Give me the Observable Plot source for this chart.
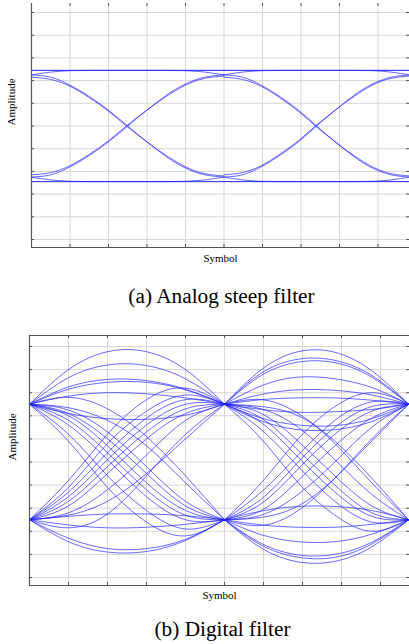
<!DOCTYPE html>
<html><head><meta charset="utf-8">
<script src="https://cdn.jsdelivr.net/npm/d3@7"></script>
<script src="https://cdn.jsdelivr.net/npm/@observablehq/plot@0.6"></script>
<style>
html,body{margin:0;padding:0;overflow:hidden;background:#fff;width:409px;height:644px}
#root{position:relative;width:409px;height:644px}
</style></head><body><div id="root"></div>
<script>
// ---------- shared labels / ticks ----------
const xTicks = [0.2, 0.4, 0.6, 0.8, 1.0, 1.2, 1.4, 1.6, 1.8];
const yTicks = [-1, -0.8, -0.6, -0.4, -0.2, 0, 0.2, 0.4, 0.6, 0.8, 1];
const captions = ["(a) Analog steep filter", "(b) Digital filter"];
const xLabel = "Symbol";
const yLabel = "Amplitude";

// ---------- panel (a): analog steep filter ----------
const aFlatX = [0, 1.964];
const aFlatHigh = [0.49, 0.49];
const aFlatLow = [-0.49, -0.49];
const aX1 = [0, 0.1, 0.2, 0.3, 0.4, 0.5, 0.6, 0.7, 0.8, 0.9, 1.0];
const aX2 = [1.0, 1.096, 1.193, 1.289, 1.386, 1.482, 1.578, 1.675, 1.771, 1.868, 1.964];
const aFall = [
  [0.45, 0.43, 0.36, 0.26, 0.14, 0.00, -0.14, -0.26, -0.36, -0.42, -0.44],
  [0.43, 0.41, 0.35, 0.25, 0.13, -0.01, -0.14, -0.27, -0.37, -0.43, -0.45]
];
const aRise = [
  [-0.45, -0.43, -0.36, -0.26, -0.14, 0.00, 0.14, 0.26, 0.36, 0.42, 0.44],
  [-0.43, -0.41, -0.35, -0.25, -0.13, 0.01, 0.14, 0.27, 0.37, 0.43, 0.45]
];
const aSettleHigh = [0.45, 0.475, 0.487, 0.49, 0.49, 0.49, 0.49, 0.49, 0.49, 0.49, 0.49];
const aLeaveHigh  = [0.49, 0.49, 0.49, 0.49, 0.49, 0.49, 0.49, 0.49, 0.487, 0.475, 0.45];
const aSettleLow  = [-0.45, -0.475, -0.487, -0.49, -0.49, -0.49, -0.49, -0.49, -0.49, -0.49, -0.49];
const aLeaveLow   = [-0.49, -0.49, -0.49, -0.49, -0.49, -0.49, -0.49, -0.49, -0.487, -0.475, -0.45];

// ---------- panel (b): digital filter ----------
const bX1 = [0, 0.2, 0.4, 0.6, 0.8, 1.0];
const bX2 = [1.0, 1.189, 1.378, 1.566, 1.755, 1.944];
const bUpper1 = [
  [0.5, 0.80, 0.955, 0.955, 0.80, 0.5],
  [0.5, 0.73, 0.84, 0.835, 0.72, 0.5],
  [0.5, 0.65, 0.715, 0.705, 0.63, 0.5],
  [0.5, 0.63, 0.69, 0.69, 0.625, 0.5],
  [0.5, 0.57, 0.60, 0.59, 0.555, 0.5],
  [0.5, 0.42, 0.375, 0.37, 0.405, 0.5]
];
const bLower1 = [
  [-0.5, -0.69, -0.78, -0.775, -0.68, -0.5],
  [-0.5, -0.66, -0.75, -0.75, -0.67, -0.5],
  [-0.5, -0.545, -0.57, -0.565, -0.54, -0.5],
  [-0.5, -0.47, -0.45, -0.45, -0.465, -0.5]
];
const bFall1 = [
  [0.5, 0.40, 0.14, -0.18, -0.42, -0.5],
  [0.5, 0.32, 0.02, -0.30, -0.50, -0.5],
  [0.5, 0.45, 0.26, -0.04, -0.34, -0.5],
  [0.5, 0.24, -0.12, -0.42, -0.58, -0.5],
  [0.5, 0.47, 0.36, 0.14, -0.18, -0.5],
  [0.5, 0.18, -0.22, -0.52, -0.64, -0.5],
  [0.5, 0.56, 0.46, 0.22, -0.12, -0.5],
  [0.5, 0.36, 0.08, -0.24, -0.46, -0.5],
  [0.5, 0.42, 0.20, -0.10, -0.38, -0.5]
];
const bRise1 = [
  [-0.5, -0.38, -0.10, 0.20, 0.42, 0.5],
  [-0.5, -0.30, 0.02, 0.32, 0.50, 0.5],
  [-0.5, -0.44, -0.24, 0.06, 0.36, 0.5],
  [-0.5, -0.22, 0.16, 0.44, 0.58, 0.5],
  [-0.5, -0.57, -0.45, -0.12, 0.24, 0.5],
  [-0.5, -0.16, 0.24, 0.54, 0.64, 0.5],
  [-0.5, -0.46, -0.34, -0.10, 0.20, 0.5],
  [-0.5, -0.34, -0.04, 0.26, 0.46, 0.5],
  [-0.5, -0.26, 0.08, 0.38, 0.54, 0.5]
];
const bUpper2 = [
  [0.5, 0.80, 0.955, 0.95, 0.79, 0.5],
  [0.5, 0.77, 0.89, 0.88, 0.75, 0.5],
  [0.5, 0.75, 0.865, 0.86, 0.735, 0.5],
  [0.5, 0.66, 0.735, 0.72, 0.645, 0.5],
  [0.5, 0.585, 0.625, 0.62, 0.58, 0.5],
  [0.5, 0.54, 0.555, 0.555, 0.535, 0.5],
  [0.5, 0.455, 0.43, 0.435, 0.455, 0.5],
  [0.5, 0.38, 0.32, 0.315, 0.375, 0.5],
  [0.5, 0.355, 0.28, 0.28, 0.35, 0.5]
];
const bLower2 = [
  [-0.5, -0.745, -0.865, -0.86, -0.735, -0.5],
  [-0.5, -0.72, -0.825, -0.825, -0.71, -0.5],
  [-0.5, -0.705, -0.805, -0.80, -0.695, -0.5],
  [-0.5, -0.63, -0.69, -0.69, -0.625, -0.5],
  [-0.5, -0.545, -0.565, -0.565, -0.54, -0.5],
  [-0.5, -0.425, -0.385, -0.385, -0.42, -0.5]
];
const bFall2 = [
  [0.5, 0.38, 0.10, -0.20, -0.44, -0.5],
  [0.5, 0.28, -0.04, -0.34, -0.52, -0.5],
  [0.5, 0.46, 0.30, 0.02, -0.28, -0.5],
  [0.5, 0.20, -0.18, -0.46, -0.60, -0.5],
  [0.5, 0.48, 0.40, 0.18, -0.14, -0.5],
  [0.5, 0.34, 0.04, -0.26, -0.47, -0.5],
  [0.5, 0.54, 0.42, 0.16, -0.18, -0.5],
  [0.5, 0.42, 0.18, -0.12, -0.38, -0.5]
];
const bRise2 = [
  [-0.5, -0.36, -0.06, 0.24, 0.44, 0.5],
  [-0.5, -0.26, 0.06, 0.36, 0.52, 0.5],
  [-0.5, -0.46, -0.28, 0.00, 0.30, 0.5],
  [-0.5, -0.18, 0.20, 0.48, 0.60, 0.5],
  [-0.5, -0.48, -0.38, -0.14, 0.18, 0.5],
  [-0.5, -0.32, 0.00, 0.30, 0.48, 0.5],
  [-0.5, -0.55, -0.42, -0.14, 0.20, 0.5],
  [-0.5, -0.42, -0.16, 0.14, 0.38, 0.5]
];

const FONT = "'Liberation Serif', 'Times New Roman', Tinos, serif";

// ---------- helpers ----------
function traces(xs, list, prefix) {
  return list.flatMap((ys, i) => ys.map((y, j) => ({x: xs[j], y, id: prefix + i})));
}

const aData = [
  ...traces(aFlatX, [aFlatHigh, aFlatLow], "af"),
  ...traces(aX1, [...aFall, ...aRise, aSettleHigh, aLeaveHigh, aSettleLow, aLeaveLow], "a1-"),
  ...traces(aX2, [...aFall, ...aRise, aSettleHigh, aLeaveHigh, aSettleLow, aLeaveLow], "a2-")
];
const bData = [
  ...traces(bX1, [...bUpper1, ...bLower1, ...bFall1, ...bRise1], "b1-"),
  ...traces(bX2, [...bUpper2, ...bLower2, ...bFall2, ...bRise2], "b2-")
];

function panel(o) {
  const W = 409;
  const innerW = W - o.marginLeft;
  const innerH = o.height - o.marginTop - o.marginBottom;
  const axisColor = "#555";
  const marks = [
    Plot.ruleX(xTicks, {stroke: "#d6d6d6", strokeWidth: 1}),
    Plot.ruleY(yTicks, {stroke: "#d6d6d6", strokeWidth: 1}),
    Plot.line(o.data, {x: "x", y: "y", z: "id", curve: "natural", stroke: "#2020ff",
      strokeWidth: 0.85, strokeOpacity: 0.8, clip: true}),
    Plot.ruleX(xTicks, {stroke: axisColor, insetBottom: innerH - 3}),
    Plot.ruleX(xTicks, {stroke: axisColor, insetTop: innerH - 3}),
    Plot.ruleY(yTicks, {stroke: axisColor, insetRight: innerW - 3}),
    Plot.ruleY(yTicks, {stroke: axisColor, insetLeft: innerW - 3}),
    Plot.ruleX([o.xDomain[0]], {stroke: axisColor, strokeWidth: 1.2}),
    Plot.ruleY([o.yDomain[0]], {stroke: axisColor, strokeWidth: 1.2}),
    ...(o.topLine ? [Plot.ruleY([o.yDomain[1]], {stroke: axisColor, strokeWidth: 1.2})] : []),
    Plot.text([xLabel], {text: d => d, frameAnchor: "bottom", dy: o.labelDy, fontSize: 11, fill: "#000"}),
    Plot.text([yLabel], {text: d => d, frameAnchor: "left", dx: o.labelDx, rotate: -90, fontSize: 11, fill: "#000"}),
    Plot.text([o.caption], {text: d => d, frameAnchor: "bottom", dy: o.captionDy, dx: o.captionDx, fontSize: 21.3, fill: "#000"})
  ];
  const svg = Plot.plot({
    width: W, height: o.height,
    marginLeft: o.marginLeft, marginRight: 0, marginTop: o.marginTop, marginBottom: o.marginBottom,
    x: {domain: o.xDomain, axis: null},
    y: {domain: o.yDomain, axis: null},
    style: {background: "transparent", fontFamily: FONT, overflow: "visible"},
    marks
  });
  svg.style.position = "absolute";
  svg.style.left = "0px";
  svg.style.top = o.top + "px";
  return svg;
}

const root = document.getElementById("root");
root.append(panel({
  data: aData, caption: captions[0], top: 0, height: 315, marginLeft: 31, marginTop: 3, marginBottom: 68,
  xDomain: [0, 1.9636], yDomain: [-1.0705, 1.0793],
  labelDy: 14, labelDx: -20, captionDy: 55, captionDx: 1, topLine: false
}));
root.append(panel({
  data: bData, caption: captions[1], top: 330, height: 314, marginLeft: 29, marginTop: 5, marginBottom: 59,
  xDomain: [0, 1.9487], yDomain: [-1.0693, 1.0952],
  labelDy: 13, labelDx: -17, captionDy: 50.5, captionDx: 3, topLine: true
}));
</script>
</body></html>
